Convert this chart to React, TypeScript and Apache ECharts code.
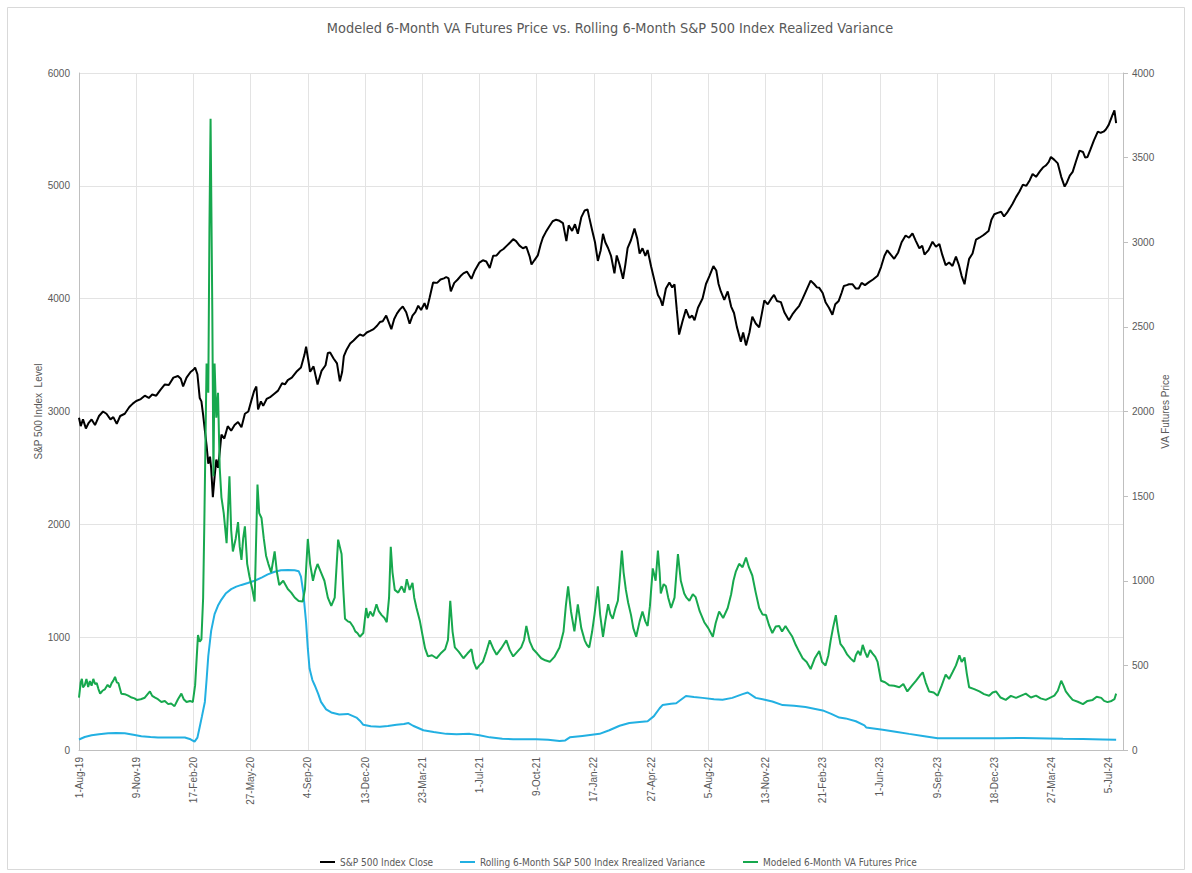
import React, { useEffect, useRef } from "react";
import * as echarts from "echarts";

const TITLE = "Modeled 6-Month VA Futures Price vs. Rolling 6-Month S&P 500 Index Realized Variance";
const LEFT_NAME = "S&P 500 Index  Level";
const RIGHT_NAME = "VA Futures Price";
const SERIES_NAMES = [
  "S&P 500 Index Close",
  "Rolling 6-Month S&P 500 Index Rrealized Variance",
  "Modeled 6-Month VA Futures Price",
];
const MONTHS = ["Jan", "Feb", "Mar", "Apr", "May", "Jun", "Jul", "Aug", "Sep", "Oct", "Nov", "Dec"];
// x values: days since 1-Aug-19
const X_MIN = 0;
const X_MAX = 1825;
const X_STEP = 100;

// [day, S&P 500 close]
const spxClose: [number, number][] = [
  [0, 2944], [3, 2870], [7, 2930], [12, 2850], [17, 2900], [22, 2930], [28, 2880], [35, 2960], [42, 3000],
  [48, 2980], [55, 2930], [60, 2950], [66, 2890], [72, 2960], [80, 2980], [88, 3040], [94, 3070], [100, 3093],
  [108, 3110], [115, 3140], [122, 3120], [128, 3150], [135, 3140], [142, 3190], [150, 3240], [157, 3235],
  [165, 3300], [173, 3315], [178, 3290], [182, 3222], [188, 3300], [195, 3350], [200, 3370], [203, 3390],
  [207, 3330], [211, 3120], [214, 3090], [217, 2970], [220, 2833], [223, 2700], [226, 2537], [229, 2600],
  [231, 2500], [234, 2240], [237, 2420], [240, 2574], [243, 2500], [246, 2640], [249, 2796], [254, 2760],
  [260, 2870], [266, 2830], [272, 2880], [278, 2907], [284, 2860], [290, 2980], [296, 3000], [301, 3092],
  [306, 3180], [310, 3222], [313, 3018], [318, 3090], [322, 3050], [328, 3111], [335, 3130], [342, 3160],
  [348, 3185], [355, 3250], [360, 3240], [365, 3278], [372, 3300], [380, 3352], [388, 3390], [394, 3500],
  [397, 3574], [401, 3450], [404, 3352], [410, 3400], [417, 3240], [424, 3360], [431, 3410], [435, 3518],
  [439, 3522], [445, 3470], [451, 3427], [456, 3267], [460, 3350], [463, 3490], [468, 3550], [474, 3602],
  [480, 3630], [486, 3660], [491, 3682], [497, 3670], [503, 3700], [509, 3714], [515, 3730], [521, 3760],
  [526, 3793], [531, 3800], [537, 3850], [546, 3730], [551, 3820], [556, 3870], [561, 3905], [566, 3930],
  [572, 3880], [578, 3778], [583, 3850], [588, 3880], [593, 3937], [598, 3900], [604, 3960], [608, 3905],
  [613, 4010], [619, 4144], [626, 4140], [632, 4170], [638, 4180], [642, 4192], [646, 4180], [650, 4064],
  [656, 4140], [662, 4170], [667, 4200], [672, 4224], [678, 4240], [686, 4176], [692, 4250], [700, 4320],
  [706, 4340], [712, 4330], [718, 4272], [724, 4380], [730, 4383], [736, 4420], [742, 4440], [748, 4470],
  [754, 4500], [759, 4527], [764, 4510], [770, 4470], [776, 4447], [782, 4460], [788, 4370], [791, 4303],
  [796, 4340], [802, 4383], [807, 4480], [811, 4542], [816, 4590], [822, 4640], [828, 4686], [834, 4700],
  [840, 4690], [846, 4670], [852, 4510], [856, 4650], [862, 4600], [867, 4660], [872, 4575], [878, 4720],
  [884, 4782], [889, 4790], [892, 4718], [897, 4606], [902, 4500], [907, 4335], [912, 4430], [916, 4575],
  [920, 4500], [925, 4447], [930, 4380], [936, 4224], [940, 4383], [945, 4300], [951, 4176], [955, 4300],
  [959, 4447], [965, 4520], [971, 4622], [976, 4530], [980, 4400], [985, 4447], [990, 4380], [994, 4431],
  [1000, 4288], [1006, 4160], [1012, 4033], [1016, 4000], [1020, 3937], [1026, 4090], [1032, 4144],
  [1037, 4100], [1041, 4128], [1045, 3900], [1049, 3682], [1055, 3800], [1061, 3905], [1067, 3830],
  [1072, 3850], [1076, 3809], [1082, 3920], [1090, 4001], [1096, 4130], [1102, 4200], [1109, 4288],
  [1114, 4250], [1118, 4130], [1122, 4064], [1128, 3990], [1134, 4064], [1140, 3930], [1145, 3873],
  [1150, 3750], [1157, 3618], [1161, 3700], [1166, 3586], [1172, 3700], [1177, 3841], [1183, 3780],
  [1189, 3746], [1193, 3850], [1198, 3985], [1204, 3950], [1210, 4000], [1215, 4033], [1220, 3980],
  [1227, 3969], [1233, 3880], [1241, 3809], [1247, 3860], [1253, 3900], [1259, 3937], [1265, 4000],
  [1272, 4080], [1279, 4160], [1285, 4130], [1290, 4100], [1294, 4096], [1300, 4050], [1305, 3969],
  [1311, 3920], [1317, 3857], [1322, 3950], [1328, 3980], [1333, 4050], [1337, 4112], [1342, 4120],
  [1346, 4128], [1352, 4128], [1358, 4090], [1363, 4090], [1368, 4140], [1374, 4120], [1381, 4147],
  [1388, 4170], [1396, 4203], [1402, 4280], [1408, 4380], [1413, 4429], [1419, 4390], [1425, 4353],
  [1432, 4410], [1438, 4500], [1445, 4560], [1451, 4540], [1457, 4579], [1463, 4510], [1469, 4447],
  [1474, 4470], [1478, 4391], [1485, 4430], [1492, 4504], [1498, 4460], [1504, 4485], [1509, 4390],
  [1515, 4297], [1521, 4320], [1527, 4290], [1533, 4372], [1538, 4300], [1543, 4200], [1548, 4128],
  [1552, 4250], [1556, 4353], [1562, 4400], [1568, 4523], [1574, 4540], [1580, 4560], [1585, 4579],
  [1590, 4600], [1595, 4700], [1600, 4748], [1606, 4760], [1612, 4770], [1617, 4729], [1622, 4760],
  [1627, 4800], [1632, 4842], [1638, 4900], [1644, 4950], [1650, 5011], [1656, 5000], [1662, 5050],
  [1667, 5105], [1673, 5080], [1680, 5130], [1685, 5162], [1690, 5180], [1695, 5210], [1699, 5256],
  [1705, 5230], [1711, 5199], [1717, 5080], [1723, 4993], [1727, 5030], [1732, 5090], [1737, 5124],
  [1743, 5220], [1749, 5312], [1755, 5300], [1759, 5250], [1763, 5256], [1768, 5320], [1774, 5400],
  [1781, 5481], [1786, 5470], [1791, 5480], [1795, 5500], [1800, 5540], [1806, 5620], [1810, 5669],
  [1813, 5556],
];

// [day, rolling 6-month realized variance] (left axis)
const realizedVariance: [number, number][] = [
  [0, 93], [10, 115], [22, 130], [35, 140], [51, 148], [65, 150], [80, 148], [95, 135], [109, 122], [125, 115],
  [138, 111], [155, 110], [167, 111], [185, 111], [195, 95], [202, 74], [207, 110], [211, 204], [215, 300],
  [220, 426], [223, 620], [226, 833], [231, 1056], [237, 1204], [243, 1280], [249, 1333], [257, 1390],
  [266, 1426], [275, 1448], [284, 1463], [295, 1480], [307, 1500], [320, 1530], [330, 1556], [342, 1580],
  [353, 1593], [365, 1595], [377, 1593], [384, 1585], [388, 1537], [392, 1400], [397, 1130], [400, 900],
  [403, 722], [408, 620], [412, 574], [418, 500], [423, 426], [432, 360], [441, 333], [455, 315], [470, 320],
  [485, 287], [491, 260], [497, 223], [510, 210], [526, 207], [540, 212], [555, 223], [568, 230], [576, 239],
  [584, 215], [602, 175], [620, 160], [642, 143], [660, 140], [683, 143], [700, 130], [718, 112], [740, 100],
  [759, 96], [780, 95], [799, 96], [820, 90], [840, 80], [850, 85], [858, 112], [880, 125], [910, 143],
  [927, 175], [945, 215], [962, 239], [980, 248], [994, 255], [1005, 300], [1015, 370], [1020, 398],
  [1035, 410], [1044, 414], [1061, 478], [1075, 470], [1090, 462], [1110, 450], [1125, 446], [1142, 462],
  [1160, 495], [1169, 510], [1183, 462], [1195, 450], [1212, 430], [1230, 398], [1250, 392], [1270, 382],
  [1300, 351], [1315, 320], [1329, 287], [1340, 280], [1358, 255], [1373, 218], [1376, 200], [1405, 180],
  [1430, 160], [1451, 143], [1475, 125], [1501, 105], [1551, 105], [1609, 105], [1650, 106], [1696, 103],
  [1720, 100], [1755, 97], [1790, 93], [1813, 90],
];

// [day, modeled 6-month VA futures price] (right axis)
const vaFuturesPrice: [number, number][] = [
  [0, 309], [3, 400], [5, 420], [7, 370], [10, 383], [13, 420], [16, 372], [19, 407], [22, 380], [25, 420],
  [28, 390], [31, 395], [34, 360], [37, 333], [41, 350], [45, 358], [50, 385], [54, 370], [57, 395], [60, 410],
  [63, 432], [66, 400], [69, 395], [74, 333], [80, 330], [86, 321], [92, 310], [97, 305], [101, 296],
  [108, 300], [115, 309], [120, 330], [124, 346], [128, 320], [133, 309], [138, 300], [144, 284], [150, 290],
  [156, 271], [161, 275], [167, 259], [173, 300], [179, 333], [183, 300], [188, 284], [194, 290], [199, 284],
  [203, 383], [208, 679], [211, 640], [214, 654], [217, 900], [219, 1321], [221, 1800], [223, 2284],
  [226, 2111], [228, 3074], [230, 3729], [233, 2605], [235, 1617], [237, 2284], [240, 1963], [243, 2111],
  [246, 1667], [249, 1493], [253, 1400], [258, 1222], [263, 1617], [266, 1300], [269, 1173], [274, 1250],
  [278, 1346], [281, 1200], [284, 1123], [287, 1250], [290, 1321], [294, 1100], [298, 1025], [303, 950],
  [307, 877], [312, 1568], [315, 1400], [319, 1371], [323, 1250], [327, 1148], [331, 1100], [336, 1049],
  [342, 1173], [346, 1050], [350, 975], [357, 1000], [365, 951], [371, 930], [377, 901], [384, 880],
  [391, 877], [395, 950], [400, 1247], [404, 1100], [409, 1000], [413, 1060], [417, 1099], [423, 1050],
  [429, 1000], [435, 900], [441, 852], [447, 900], [453, 1243], [456, 1200], [459, 1158], [462, 950],
  [465, 776], [470, 760], [474, 755], [479, 730], [483, 701], [487, 690], [491, 669], [497, 691],
  [502, 839], [505, 780], [509, 818], [514, 790], [520, 861], [524, 820], [529, 797], [534, 780],
  [538, 755], [542, 900], [545, 1201], [548, 1050], [552, 946], [558, 930], [564, 967], [569, 930],
  [573, 1009], [578, 946], [583, 988], [586, 900], [590, 839], [596, 760], [601, 669], [605, 600],
  [610, 553], [617, 560], [625, 542], [632, 570], [640, 595], [645, 650], [649, 882], [653, 700],
  [657, 606], [664, 580], [672, 542], [679, 570], [686, 595], [690, 520], [695, 478], [700, 500],
  [706, 521], [712, 580], [718, 648], [724, 600], [730, 563], [738, 600], [747, 648], [753, 590],
  [759, 553], [766, 580], [773, 606], [778, 650], [782, 733], [788, 640], [794, 595], [801, 570],
  [808, 542], [815, 530], [823, 521], [831, 550], [840, 606], [847, 700], [851, 850], [855, 967],
  [860, 820], [866, 701], [869, 780], [872, 861], [878, 720], [884, 648], [888, 620], [892, 606],
  [897, 700], [901, 797], [904, 880], [907, 967], [911, 800], [916, 669], [920, 760], [925, 861],
  [929, 800], [933, 776], [938, 840], [942, 882], [945, 1000], [949, 1179], [952, 1050], [956, 946],
  [960, 870], [965, 797], [969, 720], [974, 669], [980, 760], [985, 818], [990, 760], [994, 733],
  [998, 850], [1003, 1073], [1008, 1000], [1012, 1179], [1015, 1050], [1017, 925], [1022, 980], [1026, 967],
  [1030, 900], [1035, 839], [1041, 900], [1047, 1158], [1052, 1000], [1058, 925], [1062, 900], [1067, 882],
  [1073, 920], [1078, 903], [1085, 820], [1093, 755], [1100, 720], [1108, 669], [1113, 750], [1119, 818],
  [1126, 780], [1134, 839], [1140, 920], [1144, 1000], [1148, 1052], [1154, 1100], [1160, 1080],
  [1166, 1137], [1171, 1080], [1177, 1031], [1183, 930], [1189, 839], [1195, 800], [1201, 797],
  [1206, 740], [1212, 691], [1218, 730], [1224, 733], [1229, 700], [1235, 733], [1241, 700], [1247, 669],
  [1253, 620], [1259, 580], [1265, 542], [1272, 520], [1279, 478], [1286, 540], [1294, 585], [1299, 520],
  [1305, 499], [1310, 560], [1314, 648], [1318, 720], [1323, 797], [1327, 700], [1331, 627], [1337, 600],
  [1343, 563], [1349, 540], [1355, 521], [1358, 560], [1362, 585], [1366, 560], [1370, 621], [1374, 580],
  [1378, 547], [1383, 590], [1387, 571], [1392, 550], [1396, 521], [1402, 409], [1409, 400], [1416, 383],
  [1425, 380], [1434, 371], [1441, 390], [1448, 346], [1456, 380], [1463, 409], [1470, 440], [1475, 459],
  [1480, 400], [1486, 346], [1494, 340], [1501, 321], [1508, 380], [1515, 446], [1521, 420], [1527, 459],
  [1533, 500], [1539, 559], [1543, 520], [1548, 547], [1552, 450], [1556, 371], [1565, 360], [1574, 346],
  [1582, 330], [1591, 321], [1597, 340], [1603, 346], [1611, 310], [1620, 296], [1629, 320], [1638, 308],
  [1646, 320], [1655, 333], [1664, 310], [1673, 321], [1681, 305], [1690, 296], [1698, 310], [1705, 321],
  [1711, 350], [1717, 409], [1721, 380], [1725, 346], [1731, 320], [1737, 296], [1746, 285], [1755, 271],
  [1763, 290], [1772, 296], [1779, 315], [1787, 308], [1792, 290], [1798, 283], [1805, 290], [1810, 300],
  [1813, 333],
];

const COLORS = ["#000000", "#22b0e2", "#17a84e"];
const NARROW = "'Liberation Sans Narrow', 'DejaVu Sans Condensed', 'Liberation Sans', sans-serif";
const SANS = "'Liberation Sans', Arial, sans-serif";

function dayLabel(v: number): string {
  if (v % X_STEP !== 0) return "";
  const d = new Date(Date.UTC(2019, 7, 1) + v * 86400000);
  const yy = String(d.getUTCFullYear() % 100).padStart(2, "0");
  return `${d.getUTCDate()}-${MONTHS[d.getUTCMonth()]}-${yy}`;
}

export default function App() {
  const ref = useRef<HTMLDivElement>(null);
  useEffect(() => {
    const chart = echarts.init(ref.current!, null, { renderer: "svg" });
    const legendBase = {
      top: 852,
      icon: "rect",
      itemWidth: 15,
      itemHeight: 2,
      itemGap: 4,
      textStyle: { color: "#595959", fontSize: 10, fontFamily: NARROW },
    };
    chart.setOption({
      animation: false,
      backgroundColor: "#ffffff",
      title: {
        text: TITLE,
        left: 605,
        textAlign: "center",
        top: 16,
        textStyle: { color: "#595959", fontSize: 14.4, fontWeight: "normal", fontFamily: NARROW },
      },
      graphic: [
        {
          type: "rect",
          shape: { x: 7.5, y: 7.5, width: 1177, height: 862 },
          style: { fill: "none", stroke: "#d9d9d9", lineWidth: 1 },
          silent: true,
        },
      ],
      legend: [
        { ...legendBase, left: 315, data: [SERIES_NAMES[0]] },
        { ...legendBase, left: 455, data: [SERIES_NAMES[1]] },
        { ...legendBase, left: 738, data: [SERIES_NAMES[2]] },
      ],
      grid: { left: 79, right: 69, top: 73, bottom: 123, containLabel: false },
      xAxis: {
        type: "value",
        min: X_MIN,
        max: X_MAX,
        interval: X_STEP,
        axisLine: { show: true, lineStyle: { color: "#bfbfbf" } },
        axisTick: { show: false },
        splitLine: { show: true, lineStyle: { color: "#e3e3e3" } },
        axisLabel: {
          rotate: 90,
          margin: 7,
          color: "#595959",
          fontSize: 10,
          fontFamily: SANS,
          showMaxLabel: false,
          formatter: (v: number) => dayLabel(v),
        },
      },
      yAxis: [
        {
          type: "value",
          min: 0,
          max: 6000,
          interval: 1000,
          name: LEFT_NAME,
          nameLocation: "middle",
          nameGap: 36,
          nameMoveOverlap: false,
          nameTextStyle: { color: "#595959", fontSize: 10, fontFamily: SANS },
          axisLine: { show: true, lineStyle: { color: "#bfbfbf" } },
          axisTick: { show: false },
          splitLine: { show: true, lineStyle: { color: "#e3e3e3" } },
          axisLabel: { color: "#595959", fontSize: 10, fontFamily: SANS, margin: 9, formatter: (v: number) => String(v) },
        },
        {
          type: "value",
          min: 0,
          max: 4000,
          interval: 500,
          position: "right",
          name: RIGHT_NAME,
          nameLocation: "middle",
          nameGap: 37,
          nameMoveOverlap: false,
          nameTextStyle: { color: "#595959", fontSize: 10, fontFamily: SANS },
          axisLine: { show: true, lineStyle: { color: "#bfbfbf" } },
          axisTick: { show: true, length: 5, lineStyle: { color: "#bfbfbf" } },
          splitLine: { show: false },
          axisLabel: { color: "#595959", fontSize: 10, fontFamily: SANS, margin: 9, formatter: (v: number) => String(v) },
        },
      ],
      series: [
        {
          name: SERIES_NAMES[0],
          type: "line",
          yAxisIndex: 0,
          data: spxClose,
          showSymbol: false,
          lineStyle: { color: COLORS[0], width: 2 },
          itemStyle: { color: COLORS[0] },
        },
        {
          name: SERIES_NAMES[1],
          type: "line",
          yAxisIndex: 0,
          data: realizedVariance,
          showSymbol: false,
          lineStyle: { color: COLORS[1], width: 2 },
          itemStyle: { color: COLORS[1] },
        },
        {
          name: SERIES_NAMES[2],
          type: "line",
          yAxisIndex: 1,
          data: vaFuturesPrice,
          showSymbol: false,
          lineStyle: { color: COLORS[2], width: 2 },
          itemStyle: { color: COLORS[2] },
        },
      ],
    });
    return () => chart.dispose();
  }, []);
  return (
    <div
      ref={ref}
      style={{ position: "fixed", left: 0, top: 0, width: 1192, height: 873, background: "#fff" }}
    />
  );
}
